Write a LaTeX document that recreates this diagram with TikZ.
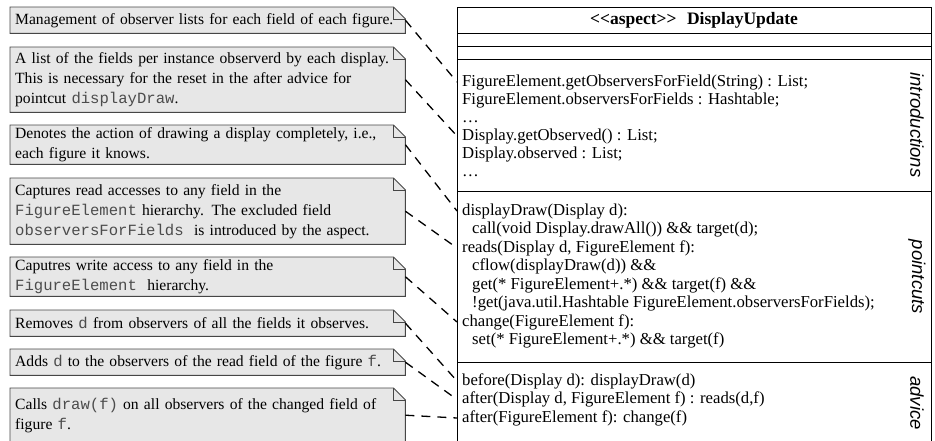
\documentclass[tikz,border=0pt]{standalone}
\usepackage{fontspec}
\setmainfont{Liberation Serif}
\setmonofont{Liberation Mono}
\newfontfamily\tagfamily{Liberation Sans}
\usetikzlibrary{backgrounds}

\definecolor{memofill}{RGB}{231,231,231}
\definecolor{memoedge}{RGB}{70,70,70}
\newcommand{\code}[1]{{\ttfamily\color{black!70}#1}}

\tikzset{
  memo/.style={anchor=north west, text width=385pt, inner xsep=5pt, inner ysep=0pt, align=left, font=\fontsize{15.6}{20}\selectfont, execute at begin node={\hyphenpenalty=10000\relax}},
  codeline/.style={anchor=west, inner xsep=5pt, inner ysep=0pt, text height=11.5pt, text depth=3.5pt, font=\fontsize{16.7}{18}\selectfont},
  tag/.style={rotate=-90, font=\tagfamily\itshape\fontsize{18.5}{20}\selectfont},
  link/.style={dash pattern=on 9pt off 7pt, line width=1.3pt}
}

\begin{document}
\begin{tikzpicture}[x=1pt, y=-1pt] % one unit is one pixel of the page
\useasboundingbox (0,0) rectangle (935,440);
\clip (0,0) rectangle (935,440);

\node[memo, minimum height=26pt] (n1) at (10,7) {Management of observer lists for each field of each figure.};
\node[memo, minimum height=65pt] (n2) at (10,47) {A list of the fields per instance observerd by each display.\\ This is necessary for the reset in the after advice for\\ pointcut \code{displayDraw}.};
\node[memo, minimum height=39pt] (n3) at (10,125) {Denotes the action of drawing a display completely, i.e.,\\ each figure it knows.};
\node[memo, minimum height=66pt] (n4) at (10,178) {Captures read accesses to any field in the\\ \code{FigureElement} hierarchy. The excluded field\\ \code{observersForFields\ } is introduced by the aspect.};
\node[memo, minimum height=39pt] (n5) at (10,257) {Caputres write access to any field in the\\ \code{FigureElement\ } hierarchy.};
\node[memo, minimum height=26pt] (n6) at (10,310) {Removes \code{d} from observers of all the fields it observes.};
\node[memo, minimum height=26pt] (n7) at (10,349) {Adds \code{d} to the observers of the read field of the figure \code{f}.};
\node[memo, minimum height=54pt] (n8) at (10,388) {Calls \code{draw(f)} on all observers of the changed field of\\ figure \code{f}.};

\begin{scope}[on background layer]
\foreach \n in {n1,n2,n3,n4,n5,n6,n7,n8}{
  \draw[memoedge, fill=memofill, line width=0.9pt] (\n.south west) |- ([xshift=-12pt]\n.north east) -- ([yshift=-12pt]\n.north east) |- cycle;
  \draw[memoedge, line width=0.9pt] ([xshift=-12pt]\n.north east) |- ([yshift=-12pt]\n.north east);
}
\end{scope}

\draw[line width=1pt] (457,7) rectangle (931,460);
\foreach \y in {33.5,46.5,59.5,191,362}
  \draw[line width=1pt] (457,\y) -- (931,\y);
\node[font=\bfseries\fontsize{17.5}{20}\selectfont] (title) at (694,20) {<\kern0pt<aspect>\kern0pt>\hspace{0.6em}DisplayUpdate};

\node[codeline] (i1) at (457,82) {FigureElement.getObserversForField(String) : List;};
\node[codeline] (i2) at (457,100) {FigureElement.observersForFields : Hashtable;};
\node[codeline] (i3) at (457,118) {\ldots};
\node[codeline] (i4) at (457,136) {Display.getObserved() : List;};
\node[codeline] (i5) at (457,154) {Display.observed : List;};
\node[codeline] (i6) at (457,172) {\ldots};

\node[codeline] (p1) at (457,211) {displayDraw(Display d):};
\node[codeline] (p2) at (457,229.5) {\hspace*{10pt}call(void Display.drawAll()) \&\& target(d);};
\node[codeline] (p3) at (457,248) {reads(Display d, FigureElement f):};
\node[codeline] (p4) at (457,266.5) {\hspace*{10pt}cflow(displayDraw(d)) \&\&};
\node[codeline] (p5) at (457,285) {\hspace*{10pt}get(* FigureElement+.*) \&\& target(f) \&\&};
\node[codeline] (p6) at (457,303.5) {\hspace*{10pt}!get(java.util.Hashtable FigureElement.observersForFields);};
\node[codeline] (p7) at (457,322) {change(FigureElement f):};
\node[codeline] (p8) at (457,340.5) {\hspace*{10pt}set(* FigureElement+.*) \&\& target(f)};

\node[codeline] (a1) at (457,381) {before(Display d): displayDraw(d)};
\node[codeline] (a2) at (457,399.5) {after(Display d, FigureElement f) : reads(d,f)};
\node[codeline] (a3) at (457,418) {after(FigureElement f): change(f)};

\node[tag] (t1) at (917,125) {introductions};
\node[tag] (t2) at (917,277) {pointcuts};
\node[tag] (t3) at (917,403) {advice};

\foreach \from/\to in {n1/i1, n2/i4, n3/p1, n4/p3, n5/p7, n6/a1, n7/a2, n8/a3}
  \draw[link] (\from.east) -- (\to.west);
\end{tikzpicture}
\end{document}
